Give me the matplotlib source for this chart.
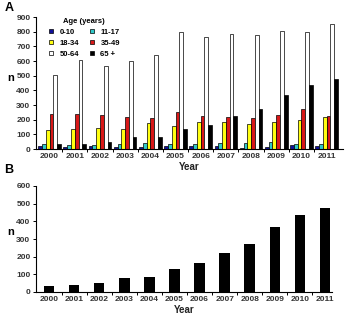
import matplotlib
matplotlib.use("Agg")
import matplotlib.pyplot as plt
from matplotlib.lines import Line2D
import numpy as np

plt.rcParams['font.family'] = ['Liberation Sans', 'DejaVu Sans']

years = ['2000', '2001', '2002', '2003', '2004', '2005', '2006',
         '2007', '2008', '2009', '2010', '2011']
age_groups = ['0-10', '11-17', '18-34', '35-49', '50-64', '65 +']
age_0_10 = [18, 11, 18, 16, 11, 20, 20, 18, 7, 16, 25, 20]
age_11_17 = [36, 27, 27, 34, 41, 36, 36, 39, 39, 50, 34, 32]
age_18_34 = [129, 134, 145, 138, 177, 156, 186, 186, 168, 186, 200, 218]
age_35_49 = [236, 236, 231, 215, 211, 254, 227, 218, 213, 231, 274, 222]
age_50_64 = [506, 608, 569, 599, 644, 800, 766, 782, 776, 805, 796, 853]
age_65_plus = [32, 36, 48, 79, 79, 134, 166, 224, 272, 367, 435, 478]
total_65_plus = [32, 37, 49, 81, 83, 133, 163, 223, 270, 368, 437, 478]

series = [age_0_10, age_11_17, age_18_34, age_35_49, age_50_64, age_65_plus]
colors = ['#10109a', '#30c8c8', '#ffff10', '#d81818', '#ffffff', '#000000']

W, H = 347, 322
fig = plt.figure(figsize=(W / 100, H / 100), dpi=100)

def px_axes(l, r, t, b):
    return fig.add_axes([l / W, (H - b) / H, (r - l) / W, (b - t) / H])

x = np.arange(len(years))

# Panel A
axA = px_axes(36, 343, 17, 149)
bw = 0.15
for i, (vals, c) in enumerate(zip(series, colors)):
    axA.bar(x + (i - 2.5) * bw, vals, width=bw, color=c, edgecolor='black',
            linewidth=0.5, label=age_groups[i])
axA.set_xlim(-0.54, 11.65)
axA.set_ylim(0, 900)
axA.set_yticks(range(0, 901, 100))

# Panel B
axB = px_axes(36, 332, 186, 292)
axB.bar(x, total_65_plus, width=0.42, color='black')
axB.set_xlim(-0.52, 11.28)
axB.set_ylim(0, 600)
axB.set_yticks(range(0, 601, 100))

for ax in (axA, axB):
    for s in ('top', 'right'):
        ax.spines[s].set_visible(False)
    for s in ('left', 'bottom'):
        ax.spines[s].set_linewidth(0.8)
    ax.set_xticks(x)
    ax.set_xticklabels(years)
    ax.set_xticks(x[:-1] + 0.5, minor=True)
    ax.tick_params(axis='x', which='major', length=0, pad=3, labelsize=6)
    ax.tick_params(axis='x', which='minor', length=2, width=0.7, direction='out')
    ax.tick_params(axis='y', length=2, width=0.7, direction='out', labelsize=6, pad=2)
    for lab in ax.get_xticklabels() + ax.get_yticklabels():
        lab.set_fontweight('bold')
        lab.set_color('#333333')
    ax.set_xlabel('Year', fontsize=7, fontweight='bold', labelpad=1, color='#222222')

fig.text(7 / W, 1 - 78 / H, 'n', fontsize=8, fontweight='bold', va='center', ha='left')
fig.text(7 / W, 1 - 232 / H, 'n', fontsize=8, fontweight='bold', va='center', ha='left')

# Legend (row-wise order: 0-10, 11-17 / 18-34, 35-49 / 50-64, 65 +)
handles = [Line2D([], [], marker='s', linestyle='none', markersize=3.5,
                  markerfacecolor=c, markeredgecolor='black', markeredgewidth=0.5)
           for c in colors]
order = [0, 2, 4, 1, 3, 5]
leg = axA.legend([handles[k] for k in order], [age_groups[k] for k in order],
                 title='Age (years)', ncol=2, frameon=False,
                 loc='upper left', bbox_to_anchor=(0.022, 1.03), fontsize=5.5,
                 title_fontsize=5.5, handlelength=0.8, handletextpad=0.7,
                 columnspacing=1.3, labelspacing=0.45, borderpad=0.2)
leg.get_title().set_fontweight('bold')
for t in leg.get_texts():
    t.set_fontweight('bold')

fig.text(5 / W, 1 - 8 / H, 'A', fontsize=9, fontweight='bold', va='center', ha='left')
fig.text(4 / W, 1 - 170 / H, 'B', fontsize=9, fontweight='bold', va='center', ha='left')

fig.savefig('out.png', dpi=100)
